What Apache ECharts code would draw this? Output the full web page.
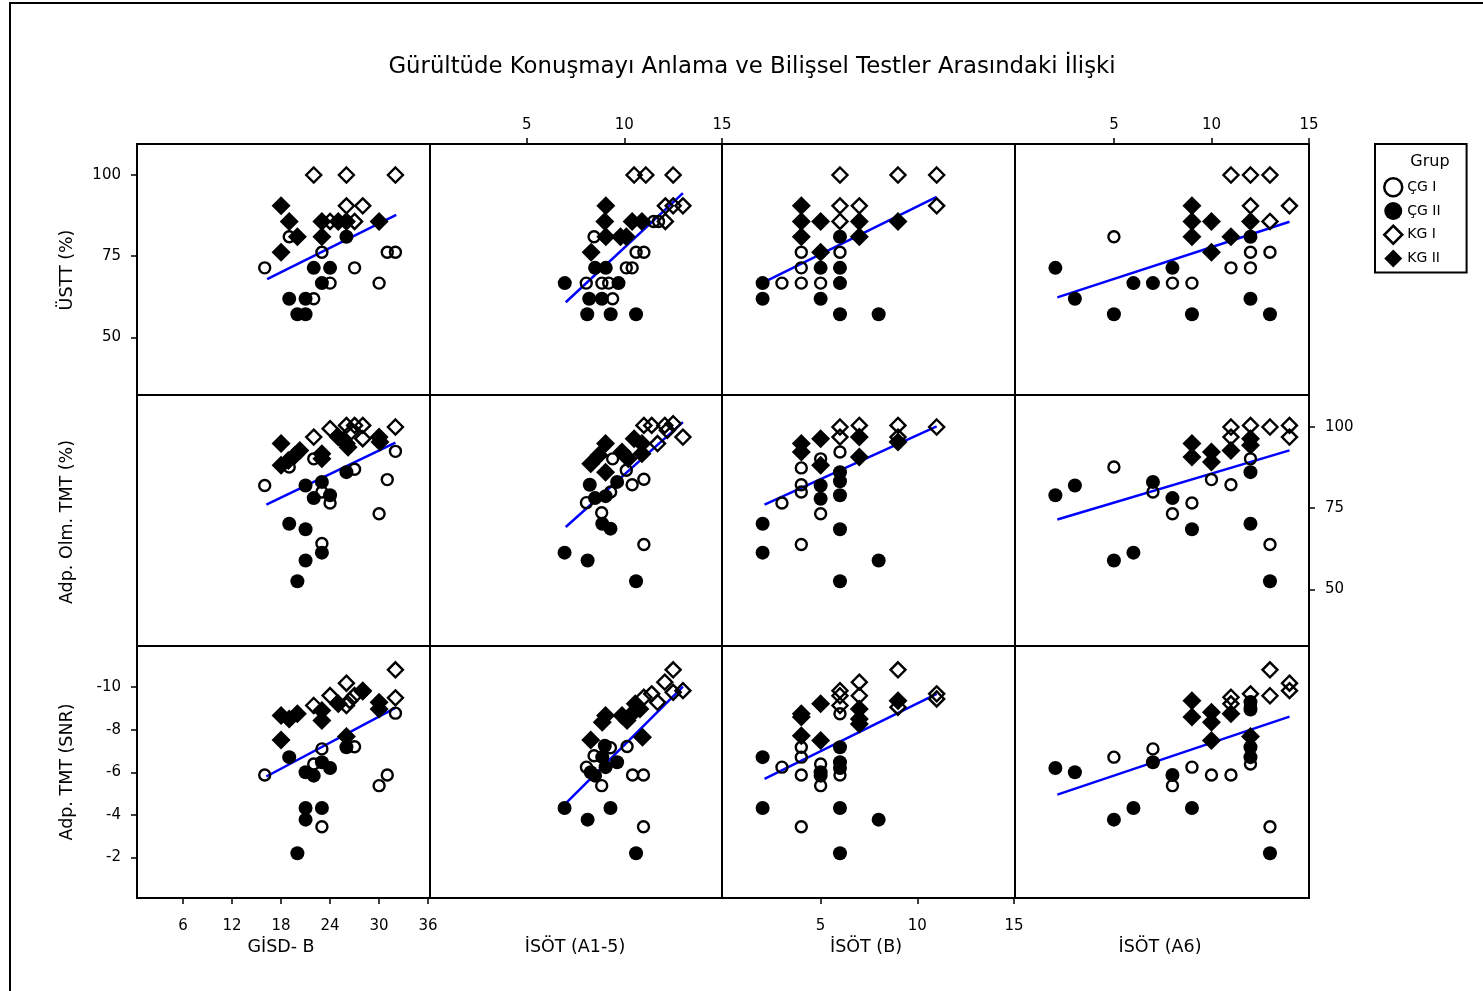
<!DOCTYPE html>
<html>
<head>
<meta charset="utf-8">
<script src="https://cdn.jsdelivr.net/npm/echarts@6/dist/echarts.min.js"></script>
<style>
  html, body { margin: 0; padding: 0; background: #fff; }
  #chart { width: 1483px; height: 991px; }
</style>
</head>
<body>
<div id="chart"></div>
<script>
// ---- labels ----
const chartTitle = 'Gürültüde Konuşmayı Anlama ve Bilişsel Testler Arasındaki İlişki';
const groups = ['ÇG I', 'ÇG II', 'KG I', 'KG II'];
const xNames = ['GİSD- B', 'İSÖT (A1-5)', 'İSÖT (B)', 'İSÖT (A6)'];
const yNames = ['ÜSTT (%)', 'Adp. Olm. TMT (%)', 'Adp. TMT (SNR)'];
const xTicks = [[6, 12, 18, 24, 30, 36], [5, 10, 15], [5, 10, 15], [5, 10, 15]];
const yTicks = [[50, 75, 100], [50, 75, 100], [-10, -8, -6, -4, -2]];

// ---- points: [x, y, group index] (0 ÇG I, 1 ÇG II, 2 KG I, 3 KG II) ----
// row 1: ÜSTT (%)
const ustt_gisd = [
  [16,71.4,0],[19,81,0],[23,76.2,0],[27,71.4,0],[30,66.7,0],[31,76.2,0],[32,76.2,0],[24,66.7,0],[22,61.9,0],
  [22,71.4,1],[24,71.4,1],[23,66.7,1],[19,61.9,1],[21,61.9,1],[20,57.1,1],[21,57.1,1],[26,81,1],
  [22,100,2],[26,100,2],[32,100,2],[26,90.5,2],[28,90.5,2],[24,85.7,2],[27,85.7,2],
  [18,90.5,3],[19,85.7,3],[20,81,3],[18,76.2,3],[23,85.7,3],[25,85.7,3],[26,85.7,3],[23,81,3],[30,85.7,3]
];
const ustt_a15 = [
  [8.45,81,0],[10.6,76.2,0],[11,76.2,0],[10.1,71.4,0],[10.4,71.4,0],[8.05,66.7,0],[8.85,66.7,0],[9.2,66.7,0],[9.4,61.9,0],[11.5,85.7,0],[11.75,85.7,0],
  [8.5,71.4,1],[9.05,71.4,1],[6.95,66.7,1],[9.7,66.7,1],[8.2,61.9,1],[8.85,61.9,1],[8.1,57.1,1],[9.3,57.1,1],[10.6,57.1,1],
  [10.5,100,2],[11.1,100,2],[12.5,100,2],[12.1,90.5,2],[12.5,90.5,2],[13,90.5,2],[12.1,85.7,2],
  [9.05,90.5,3],[9,85.7,3],[10.4,85.7,3],[10.9,85.7,3],[9.05,81,3],[9.8,81,3],[10.1,81,3],[8.3,76.2,3]
];
const ustt_b = [
  [4,76.2,0],[6,76.2,0],[4,71.4,0],[3,66.7,0],[4,66.7,0],[5,66.7,0],
  [6,81,1],[5,71.4,1],[6,71.4,1],[2,66.7,1],[6,66.7,1],[2,61.9,1],[5,61.9,1],[6,57.1,1],[8,57.1,1],
  [6,100,2],[9,100,2],[11,100,2],[6,90.5,2],[7,90.5,2],[11,90.5,2],[6,85.7,2],
  [4,90.5,3],[4,85.7,3],[5,85.7,3],[4,81,3],[7,85.7,3],[7,81,3],[5,76.2,3],[9,85.7,3]
];
const ustt_a6 = [
  [5,81,0],[12,76.2,0],[13,76.2,0],[11,71.4,0],[12,71.4,0],[8,66.7,0],[9,66.7,0],
  [2,71.4,1],[8,71.4,1],[6,66.7,1],[7,66.7,1],[3,61.9,1],[12,61.9,1],[12,81,1],[5,57.1,1],[9,57.1,1],[13,57.1,1],
  [11,100,2],[12,100,2],[13,100,2],[12,90.5,2],[14,90.5,2],[13,85.7,2],
  [9,90.5,3],[9,85.7,3],[10,85.7,3],[9,81,3],[12,85.7,3],[11,81,3],[10,76.2,3]
];
// row 2: Adp. Olm. TMT (%)
const olm_gisd = [
  [16,82,0],[19,87.7,0],[22,90.2,0],[23,80,0],[24,76.6,0],[27,87,0],[31,83.8,0],[32,92.5,0],[30,73.3,0],[23,64.1,0],
  [21,82,1],[23,83.1,1],[22,78.1,1],[24,79,1],[26,86.1,1],[19,70.2,1],[21,68.5,1],[23,61.3,1],[21,58.9,1],[20,52.5,1],
  [22,96.9,2],[24,99.5,2],[26,100.5,2],[27,100.5,2],[28,100.5,2],[26.6,98.5,2],[28,96.4,2],[32,100,2],
  [18,94.9,3],[18,88.2,3],[18.9,89.7,3],[19.7,91.3,3],[20.3,92.8,3],[23,91.8,3],[23,90.2,3],[25,96.9,3],[26,94.9,3],[26.2,93.8,3],[30,96.9,3],[30.1,95.4,3]
];
const olm_a15 = [
  [9.4,90.2,0],[10.1,86.7,0],[10.4,82.2,0],[11,83.9,0],[9.3,80,0],[8.06,76.7,0],[8.84,73.6,0],[11,63.8,0],
  [8.23,82.2,1],[9.63,83.1,1],[8.5,78.1,1],[9.04,78.7,1],[8.87,70.2,1],[9.29,68.7,1],[6.94,61.3,1],[8.12,58.9,1],[10.6,52.5,1],
  [11,100.5,2],[11.4,100.5,2],[12.07,100.5,2],[12.5,101,2],[13,96.9,2],[11.7,94.9,2],[12.2,99,2],
  [9.04,94.9,3],[8.7,91.3,3],[8.28,88.7,3],[9.04,86.1,3],[9.88,92.3,3],[10.2,90.2,3],[10.5,96.4,3],[10.9,94.9,3],[10.9,91.8,3]
];
const olm_b = [
  [6,92.3,0],[5,90.2,0],[4,87.4,0],[4,82.2,0],[4,80,0],[3,76.6,0],[5,73.3,0],[4,63.8,0],
  [6,86.1,1],[6,83.3,1],[5,82,1],[6,79,1],[5,77.9,1],[2,70.2,1],[6,68.5,1],[2,61.3,1],[8,58.9,1],[6,52.5,1],
  [6,100,2],[7,100.5,2],[9,100.5,2],[11,100,2],[6,96.9,2],[9,96.9,2],
  [4,94.9,3],[4,92.3,3],[5,96.4,3],[7,96.9,3],[7,90.8,3],[5,88.2,3],[9,95.4,3]
];
const olm_a6 = [
  [5,87.7,0],[7,80,0],[9,76.6,0],[8,73.3,0],[10,83.8,0],[11,82.2,0],[12,90.2,0],[13,63.8,0],
  [2,79,1],[3,82,1],[7,83.1,1],[8,78.1,1],[9,68.5,1],[12,86.1,1],[12,70.2,1],[5,58.9,1],[6,61.3,1],[13,52.5,1],
  [11,100,2],[12,100.5,2],[13,100,2],[14,100.5,2],[11,96.9,2],[14,96.9,2],
  [9,94.9,3],[9,90.8,3],[10,92.3,3],[10,89.2,3],[11,92.8,3],[12,96.4,3],[12,94.4,3]
];
// row 3: Adp. TMT (SNR)
const snr_gisd = [
  [16,-5.87,0],[23,-7.1,0],[22,-6.39,0],[27,-7.2,0],[32,-8.78,0],[31,-5.87,0],[30,-5.37,0],[23,-3.44,0],
  [19,-6.71,1],[21,-6.0,1],[22,-5.84,1],[23,-6.47,1],[24,-6.2,1],[26,-7.18,1],[21,-4.32,1],[23,-4.32,1],[21,-3.77,1],[20,-2.19,1],
  [32,-10.82,2],[26,-10.19,2],[24,-9.61,2],[22,-9.14,2],[28,-9.8,2],[27,-9.61,2],[26,-9.14,2],[32,-9.5,2],[26.4,-9.37,2],
  [18,-8.67,3],[19,-8.51,3],[20,-8.75,3],[23,-8.9,3],[23,-8.43,3],[25,-9.22,3],[30,-9.29,3],[30,-8.98,3],[18,-7.52,3],[26,-7.68,3],[28,-9.84,3]
];
const snr_a15 = [
  [8.45,-6.78,0],[8.06,-6.24,0],[9.29,-7.15,0],[10.14,-7.21,0],[8.84,-5.37,0],[10.42,-5.87,0],[10.98,-5.87,0],[10.98,-3.44,0],
  [9.0,-7.25,1],[8.87,-6.71,1],[9.04,-6.24,1],[9.63,-6.47,1],[8.28,-6.0,1],[8.5,-5.84,1],[6.94,-4.32,1],[8.12,-3.77,1],[9.29,-4.32,1],[10.6,-2.19,1],
  [12.5,-10.82,2],[12.07,-10.24,2],[13,-9.84,2],[12.5,-9.76,2],[11.7,-9.29,2],[11.4,-9.69,2],[11,-9.53,2],
  [9.04,-8.67,3],[8.87,-8.35,3],[9.88,-8.67,3],[10.14,-8.43,3],[10.56,-9.22,3],[10.8,-8.98,3],[10.47,-8.82,3],[8.28,-7.52,3],[10.93,-7.65,3]
];
const snr_b = [
  [6,-8.75,0],[4,-7.18,0],[4,-6.71,0],[3,-6.24,0],[5,-6.39,0],[4,-5.87,0],[6,-5.87,0],[5,-5.37,0],[4,-3.44,0],
  [2,-6.71,1],[6,-7.18,1],[6,-6.47,1],[6,-6.2,1],[5,-6.0,1],[5,-5.84,1],[2,-4.32,1],[6,-4.32,1],[8,-3.77,1],[6,-2.19,1],
  [9,-10.82,2],[7,-10.24,2],[6,-9.84,2],[6,-9.6,2],[7,-9.6,2],[6,-9.14,2],[11,-9.69,2],[11,-9.45,2],[9,-9.06,2],
  [4,-8.75,3],[4,-8.6,3],[5,-9.22,3],[7,-8.98,3],[7,-8.51,3],[7,-8.27,3],[9,-9.37,3],[4,-7.72,3],[5,-7.49,3]
];
const snr_a6 = [
  [5,-6.71,0],[7,-7.1,0],[9,-6.24,0],[8,-5.37,0],[10,-5.87,0],[11,-5.87,0],[12,-6.39,0],[12,-9.06,0],[13,-3.44,0],
  [2,-6.2,1],[3,-6.0,1],[7,-6.47,1],[8,-5.87,1],[9,-4.32,1],[12,-7.18,1],[12,-6.71,1],[12,-9.3,1],[12,-8.95,1],[5,-3.77,1],[6,-4.32,1],[13,-2.19,1],
  [13,-10.82,2],[14,-10.19,2],[14,-9.84,2],[13,-9.6,2],[12,-9.69,2],[11,-9.53,2],[11,-9.22,2],
  [9,-9.37,3],[9,-8.6,3],[10,-8.82,3],[10,-8.35,3],[11,-8.75,3],[10,-7.49,3],[12,-7.68,3]
];

// ---- fitted lines (end points) ----
const fit_ustt_gisd = [[16.3, 67.9], [32.1, 87.7]];
const fit_ustt_a15  = [[7.0, 60.8], [13.0, 94.4]];
const fit_ustt_b    = [[2.1, 67.1], [11.0, 93.3]];
const fit_ustt_a6   = [[2.1, 62.3], [14.0, 85.6]];
const fit_olm_gisd  = [[16.2, 76.1], [32.0, 95.2]];
const fit_olm_a15   = [[7.0, 69.2], [13.0, 101.5]];
const fit_olm_b     = [[2.1, 76.1], [11.0, 100.2]];
const fit_olm_a6    = [[2.1, 71.5], [14.0, 92.8]];
const fit_snr_gisd  = [[16.2, -5.8], [32.0, -9.03]];
const fit_snr_a15   = [[7.0, -4.54], [13.0, -10.03]];
const fit_snr_b     = [[2.1, -5.69], [11.0, -9.69]];
const fit_snr_a6    = [[2.1, -4.95], [14.0, -8.62]];

const panels = [
  [ustt_gisd, ustt_a15, ustt_b, ustt_a6],
  [olm_gisd, olm_a15, olm_b, olm_a6],
  [snr_gisd, snr_a15, snr_b, snr_a6]
];
const fits = [
  [fit_ustt_gisd, fit_ustt_a15, fit_ustt_b, fit_ustt_a6],
  [fit_olm_gisd, fit_olm_a15, fit_olm_b, fit_olm_a6],
  [fit_snr_gisd, fit_snr_a15, fit_snr_b, fit_snr_a6]
];

// ---- layout ----
const FONT = '"DejaVu Sans", Verdana, sans-serif';
const colEdges = [137, 430, 722, 1015, 1309];
const rowEdges = [144, 395, 646, 898];
const xRange = [[0.37, 36.23], [0.05, 15.0], [-0.1, 15.05], [-0.07, 15.0]];
const yRange = [[32.24, 109.55], [32.55, 109.86], [-11.94, -0.085]];

const markerStyles = [
  { symbol: 'circle',  symbolSize: 11, itemStyle: { color: 'rgba(0,0,0,0)', borderColor: '#000', borderWidth: 2.4, opacity: 1 } },
  { symbol: 'circle',  symbolSize: 14, itemStyle: { color: '#000', opacity: 1 } },
  { symbol: 'diamond', symbolSize: 15, itemStyle: { color: 'rgba(0,0,0,0)', borderColor: '#000', borderWidth: 2.4, opacity: 1 } },
  { symbol: 'diamond', symbolSize: 19, itemStyle: { color: '#000', opacity: 1 } }
];

const grid = [], xAxis = [], yAxis = [], series = [];
for (let r = 0; r < 3; r++) {
  for (let c = 0; c < 4; c++) {
    const idx = r * 4 + c;
    grid.push({
      left: colEdges[c], top: rowEdges[r],
      width: colEdges[c + 1] - colEdges[c], height: rowEdges[r + 1] - rowEdges[r],
      show: true, borderColor: '#000', borderWidth: 2, backgroundColor: 'transparent',
      containLabel: false
    });
    let xPos = null;
    if (r === 2 && (c === 0 || c === 2)) xPos = 'bottom';
    if (r === 0 && (c === 1 || c === 3)) xPos = 'top';
    xAxis.push({
      type: 'value', gridIndex: idx, min: xRange[c][0], max: xRange[c][1],
      position: xPos || 'bottom',
      axisLine: { show: false, onZero: false }, splitLine: { show: false },
      axisTick: { show: !!xPos, length: 6, lineStyle: { color: '#000', width: 1.5 }, customValues: xTicks[c] },
      axisLabel: { show: !!xPos, customValues: xTicks[c], margin: xPos === 'top' ? 11 : 21,
                   color: '#000', fontSize: 15, fontFamily: FONT }
    });
    let yPos = null;
    if (c === 0 && (r === 0 || r === 2)) yPos = 'left';
    if (c === 3 && r === 1) yPos = 'right';
    yAxis.push({
      type: 'value', gridIndex: idx, min: yRange[r][0], max: yRange[r][1],
      inverse: r === 2, position: yPos || 'left',
      axisLine: { show: false, onZero: false }, splitLine: { show: false },
      axisTick: { show: !!yPos, length: 6, lineStyle: { color: '#000', width: 1.5 }, customValues: yTicks[r] },
      axisLabel: { show: !!yPos, customValues: yTicks[r], margin: 16,
                   color: '#000', fontSize: 15, fontFamily: FONT }
    });
    series.push({
      type: 'line', xAxisIndex: idx, yAxisIndex: idx, data: fits[r][c],
      symbol: 'none', silent: true, z: 1,
      lineStyle: { color: '#0000ff', width: 2.5 }
    });
    for (let g = 0; g < 4; g++) {
      series.push(Object.assign({
        type: 'scatter', name: groups[g], xAxisIndex: idx, yAxisIndex: idx, z: 2 + g,
        emphasis: { disabled: true },
        data: panels[r][c].filter(p => p[2] === g).map(p => [p[0], p[1]])
      }, JSON.parse(JSON.stringify(markerStyles[g]))));
    }
  }
}

const graphic = [
  { type: 'rect', shape: { x: 10, y: 3, width: 1480, height: 1000 },
    style: { fill: 'none', stroke: '#000', lineWidth: 2 }, silent: true },
  { type: 'text', x: 752, y: 67,
    style: { text: chartTitle, font: '22.8px ' + FONT, fill: '#000',
             align: 'center', verticalAlign: 'middle', textAlign: 'center', textVerticalAlign: 'middle' } },
  { type: 'text', x: 1430, y: 162,
    style: { text: 'Grup', font: '16px ' + FONT, fill: '#000',
             align: 'center', verticalAlign: 'middle', textAlign: 'center', textVerticalAlign: 'middle' } }
];
const xNameX = [281, 575, 866, 1160];
xNames.forEach((t, i) => graphic.push({ type: 'text', x: xNameX[i], y: 947,
  style: { text: t, font: '17.5px ' + FONT, fill: '#000',
           align: 'center', verticalAlign: 'middle', textAlign: 'center', textVerticalAlign: 'middle' } }));
const yNameY = [270, 522, 772];
yNames.forEach((t, i) => graphic.push({ type: 'text', x: 67, y: yNameY[i], rotation: Math.PI / 2,
  style: { text: t, font: '17.5px ' + FONT, fill: '#000',
           align: 'center', verticalAlign: 'middle', textAlign: 'center', textVerticalAlign: 'middle' } }));

const chart = echarts.init(document.getElementById('chart'), null, { renderer: 'canvas' });
chart.setOption({
  animation: false,
  backgroundColor: '#fff',
  grid, xAxis, yAxis, series, graphic,
  legend: {
    orient: 'vertical', left: 1375, top: 144,
    padding: [33, 26, 5, 8], itemWidth: 18, itemHeight: 18, itemGap: 4.5,
    borderColor: '#000', borderWidth: 2, selectedMode: false,
    textStyle: { fontSize: 14, fontFamily: FONT, color: '#000' },
    data: [
      { name: 'ÇG I', icon: 'circle', itemStyle: { color: 'rgba(0,0,0,0)', borderColor: '#000', borderWidth: 2.5, opacity: 1 } },
      { name: 'ÇG II', icon: 'circle', itemStyle: { color: '#000', borderWidth: 0, opacity: 1 } },
      { name: 'KG I', icon: 'diamond', itemStyle: { color: 'rgba(0,0,0,0)', borderColor: '#000', borderWidth: 2.5, opacity: 1 } },
      { name: 'KG II', icon: 'diamond', itemStyle: { color: '#000', borderWidth: 0, opacity: 1 } }
    ]
  }
});
</script>
</body>
</html>
